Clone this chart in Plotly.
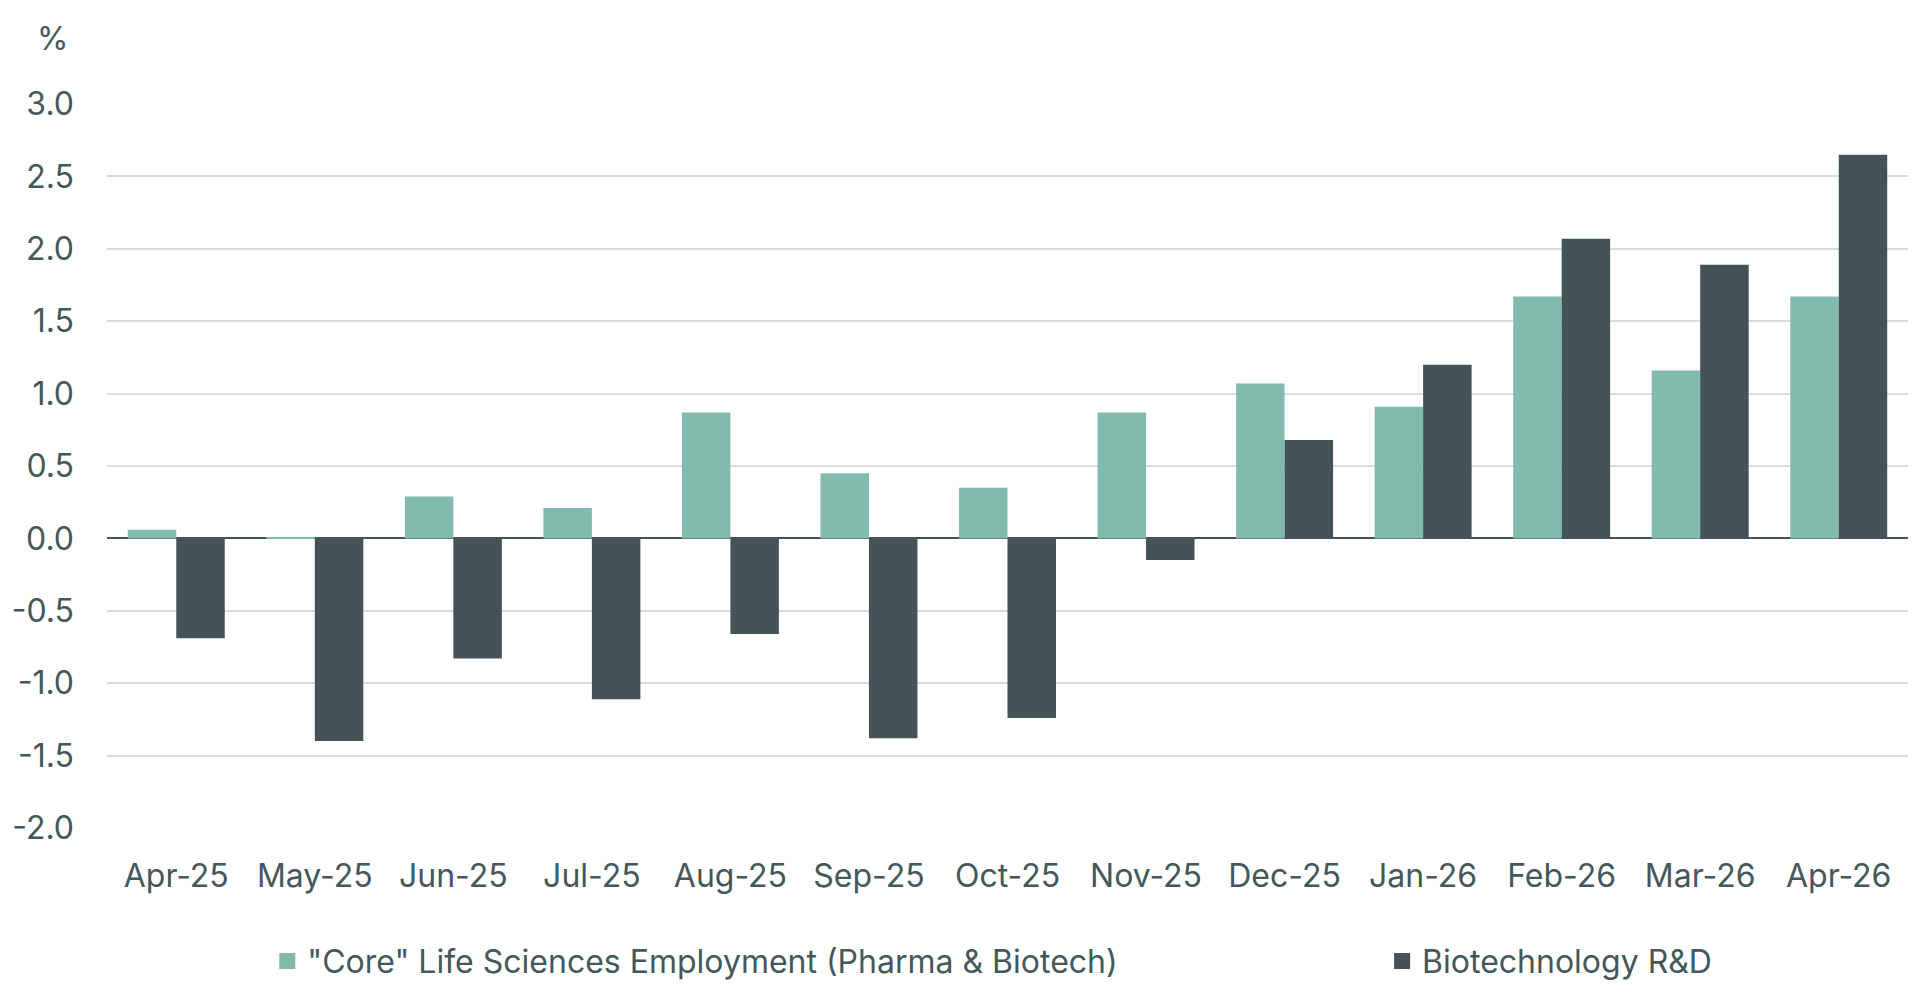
import plotly.graph_objects as go

months = ["Apr-25", "May-25", "Jun-25", "Jul-25", "Aug-25", "Sep-25", "Oct-25",
          "Nov-25", "Dec-25", "Jan-26", "Feb-26", "Mar-26", "Apr-26"]
core_life_sciences = [0.06, 0.01, 0.29, 0.21, 0.87, 0.45, 0.35, 0.87, 1.07, 0.91, 1.67, 1.16, 1.67]
biotech_rnd = [-0.69, -1.40, -0.83, -1.11, -0.66, -1.38, -1.24, -0.15, 0.68, 1.20, 2.07, 1.89, 2.65]
y_ticks = [3.0, 2.5, 2.0, 1.5, 1.0, 0.5, 0.0, -0.5, -1.0, -1.5, -2.0]

TEAL = "#82BBAD"
DARK = "#435356"
TEXT = "#44575A"
FONT = "Inter"
FS = 32

fig = go.Figure()
fig.add_trace(go.Bar(x=months, y=core_life_sciences, marker_color=TEAL,
                     marker_line_width=0, showlegend=False))
fig.add_trace(go.Bar(x=months, y=biotech_rnd, marker_color=DARK,
                     marker_line_width=0, showlegend=False))

# legend entries
fig.add_trace(go.Scatter(x=[None], y=[None], mode="markers",
                         marker=dict(symbol="square", size=18, color=TEAL),
                         name='"Core" Life Sciences Employment (Pharma & Biotech)',
                         legend="legend"))
fig.add_trace(go.Scatter(x=[None], y=[None], mode="markers",
                         marker=dict(symbol="square", size=18, color=DARK),
                         name="Biotechnology R&D", legend="legend2"))

legend_common = dict(orientation="h", yref="container", y=0.035, yanchor="middle",
                     xanchor="left", bgcolor="rgba(0,0,0,0)",
                     font=dict(family=FONT, size=FS, color=TEXT),
                     itemsizing="trace")

fig.update_layout(
    width=1920, height=996, autosize=False,
    margin=dict(l=105, r=12, t=104, b=168),
    plot_bgcolor="white", paper_bgcolor="white",
    barmode="group", bargap=0.30, bargroupgap=0,
    font=dict(family=FONT, size=FS, color=TEXT),
    legend=dict(x=0.089, **legend_common),
    legend2=dict(x=0.708, **legend_common),
    xaxis=dict(showgrid=False, showline=False, ticks="",
               tickfont=dict(family=FONT, size=FS, color=TEXT),
               ticklabelstandoff=26),
    yaxis=dict(range=[-2.0, 3.0], tickvals=y_ticks,
               ticktext=[f"{v:.1f}" for v in y_ticks],
               showgrid=True, gridcolor="#D8DCDC", gridwidth=1.5,
               zeroline=True, zerolinecolor=DARK, zerolinewidth=2,
               showline=False, ticks="",
               tickfont=dict(family=FONT, size=FS, color=TEXT),
               ticklabelstandoff=32),
    annotations=[dict(text="%", xref="paper", yref="paper",
                      x=-0.03, y=1.09, xanchor="center", yanchor="middle",
                      showarrow=False,
                      font=dict(family=FONT, size=FS, color=TEXT))],
)

fig.write_html("out.html")
